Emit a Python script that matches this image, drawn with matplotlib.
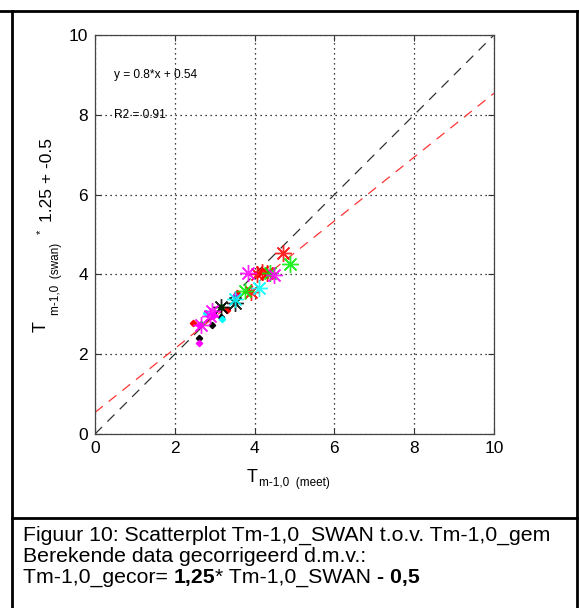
import matplotlib
matplotlib.use("Agg")
import matplotlib.pyplot as plt
from matplotlib.lines import Line2D

plt.rcParams['font.family'] = ['Liberation Sans', 'DejaVu Sans']

# ---- data ----
series_colors = ['#ff0000', '#00ee00', '#000000', '#00ffff', '#ff00ff']

star_x = {
    '#ff0000': [4.72, 4.05, 4.18, 4.32, 3.92],
    '#00ee00': [4.89, 4.39, 3.76],
    '#000000': [3.52, 3.15],
    '#00ffff': [4.12, 3.50],
    '#ff00ff': [3.83, 4.48, 2.92, 2.65, 2.88],
}
star_y = {
    '#ff0000': [4.54, 4.01, 4.07, 4.04, 3.56],
    '#00ee00': [4.26, 4.03, 3.58],
    '#000000': [3.28, 3.18],
    '#00ffff': [3.66, 3.38],
    '#ff00ff': [4.03, 3.98, 3.09, 2.74, 2.95],
}
dot_x = {
    '#ff0000': [2.45, 3.32, 3.55],
    '#00ee00': [3.17, 2.65],
    '#000000': [2.93, 2.61, 3.15],
    '#00ffff': [2.79, 3.18],
    '#ff00ff': [2.61, 2.99, 2.60, 3.52],
}
dot_y = {
    '#ff0000': [2.77, 3.12, 3.54],
    '#00ee00': [3.19, 2.75],
    '#000000': [2.73, 2.40, 2.93],
    '#00ffff': [3.03, 2.89],
    '#ff00ff': [2.72, 2.98, 2.27, 3.46],
}

fit_slope = 0.8
fit_intercept = 0.54
fit_text = 'y = 0.8*x + 0.54'
r2_text = 'R2 = 0.91'
ticks = [0, 2, 4, 6, 8, 10]

caption_lines = [
    'Figuur 10: Scatterplot Tm-1,0_SWAN t.o.v. Tm-1,0_gem',
    'Berekende data gecorrigeerd d.m.v.:',
]
caption_last = [('Tm-1,0_gecor= ', 'normal'), ('1,25', 'bold'),
                ('* Tm-1,0_SWAN ', 'normal'), ('- 0,5', 'bold')]

W, H = 579, 608
fig = plt.figure(figsize=(W / 100, H / 100), dpi=100)

def fx(px):
    return px / W

def fy(py):
    return 1 - py / H

ax = fig.add_axes([fx(95), fy(434), (494 - 95) / W, (434 - 35) / H])
ax.set_xlim(0, 10)
ax.set_ylim(0, 10)
ax.set_xticks(ticks)
ax.set_yticks(ticks)
ax.tick_params(direction='in', length=4, width=0.8, colors='#333333',
               labelcolor='black', labelsize=12.5, top=True, right=True, pad=5)
for s in ax.spines.values():
    s.set_color('#444444')
    s.set_linewidth(0.9)
ax.grid(True, color='black', linestyle=(0, (1, 3)), linewidth=0.9)
ax.set_axisbelow(True)

# 1:1 line and fit line
xl = [0, 10]
ax.plot(xl, xl, color='#333333', linestyle=(0, (8, 6)), linewidth=0.9, zorder=2)
ax.plot(xl, [fit_slope * v + fit_intercept for v in xl], color='#ff3333',
        linestyle=(0, (8, 6)), linewidth=0.9, zorder=2)

for c in series_colors:
    ax.plot(dot_x[c], dot_y[c], linestyle='none', marker='D', markersize=3.2,
            color=c, zorder=3)
    ax.plot(star_x[c], star_y[c], linestyle='none', marker=(8, 2, 0),
            markersize=12, markeredgewidth=1.0, color=c, alpha=0.85, zorder=4)

ax.text(0.47, 9.0, fit_text, fontsize=8.6, va='center', ha='left', zorder=5)
ax.text(0.47, 8.0, r2_text, fontsize=8.6, va='center', ha='left', zorder=5)

# x label
fig.text(fx(252), fy(477), 'T', fontsize=13, ha='center', va='center')
fig.text(fx(259), fy(483), 'm-1,0  (meet)', fontsize=8.5, ha='left', va='center')

# y label (rotated pieces)
fig.text(fx(41), fy(327), 'T', fontsize=13, ha='center', va='center', rotation=90)
fig.text(fx(56), fy(315), 'm-1,0  (swan)', fontsize=8.5, ha='center', va='bottom',
         rotation=90)
fig.text(fx(41), fy(232), '*', fontsize=8, ha='center', va='center', rotation=90)
fig.text(fx(47), fy(222), '1.25 + -0.5', fontsize=12.5, ha='center', va='bottom',
         rotation=90)

# table borders
lw = 2
fig.add_artist(Line2D([0, 1], [fy(11), fy(11)], transform=fig.transFigure,
                      color='black', linewidth=lw))
fig.add_artist(Line2D([fx(12), fx(12)], [fy(11), 0], transform=fig.transFigure,
                      color='black', linewidth=lw))
fig.add_artist(Line2D([fx(577), fx(577)], [fy(11), 0], transform=fig.transFigure,
                      color='black', linewidth=lw))
fig.add_artist(Line2D([fx(12), fx(577)], [fy(518), fy(518)], transform=fig.transFigure,
                      color='black', linewidth=lw))

# caption
cap_fs = 15.3
fig.text(fx(23), fy(541), caption_lines[0], fontsize=cap_fs, ha='left', va='baseline')
fig.text(fx(23), fy(562), caption_lines[1], fontsize=cap_fs, ha='left', va='baseline')

fig.canvas.draw()
renderer = fig.canvas.get_renderer()
x_disp = fx(23) * fig.bbox.width
for txt, wt in caption_last:
    t = fig.text(x_disp / fig.bbox.width, fy(583), txt, fontsize=cap_fs,
                 ha='left', va='baseline', fontweight=wt)
    x_disp = t.get_window_extent(renderer).x1

fig.savefig('out.png', dpi=100)
